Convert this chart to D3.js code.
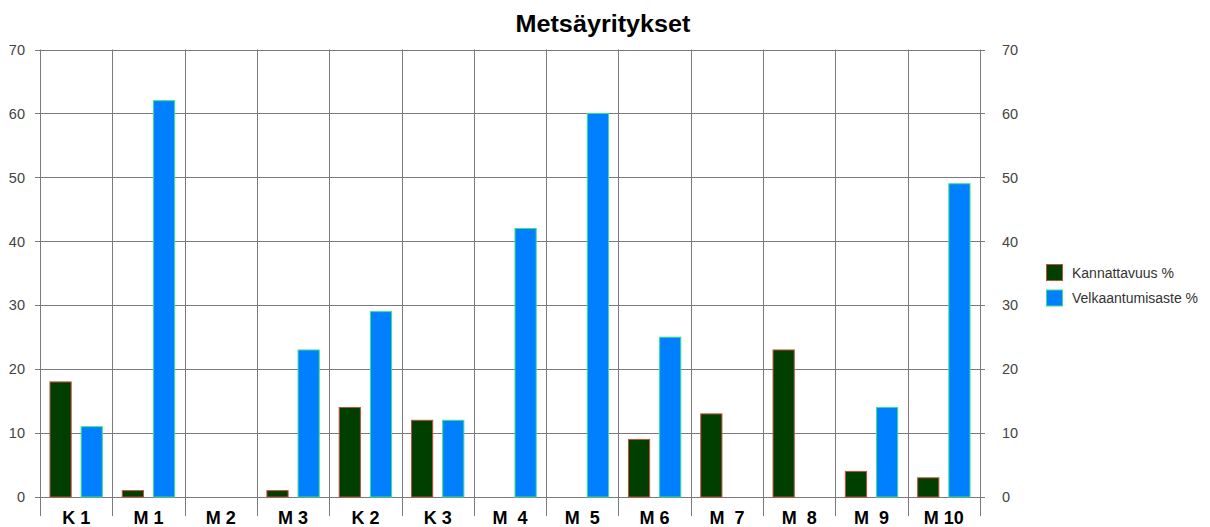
<!DOCTYPE html>
<html>
<head>
<meta charset="utf-8">
<script src="https://cdn.jsdelivr.net/npm/d3@7"></script>
<style>
  body { margin: 0; background: #fff; }
  text { font-family: "Liberation Sans", Arial, sans-serif; }
</style>
</head>
<body>
<div id="graph"></div>
<script>
// data
var categories = ["K 1", "M 1", "M 2", "M 3", "K 2", "K 3", "M  4", "M  5", "M 6", "M  7", "M  8", "M  9", "M 10"];
var kannattavuus = [18, 1, 0, 1, 14, 12, 0, 0, 9, 13, 23, 4, 3];
var velkaantumisaste = [11, 62, 0, 23, 29, 12, 42, 60, 25, 0, 0, 14, 49];
var seriesNames = ["Kannattavuus %", "Velkaantumisaste %"];
var yTicks = [0, 10, 20, 30, 40, 50, 60, 70];

var fills = ["#003f00", "#0080ff"];
var strokes = ["#c0503a", "#3ee08a"];

var w = 1210, h = 527;
// plot area (note: "top" is reserved on window, so use plot* names)
var plotLeft = 40, plotRight = 980, plotTop = 49.5, plotBottom = 497;

var svg = d3.select("div#graph").append("svg")
	.attr("width", w)
	.attr("height", h);

var x0 = d3.scaleBand().domain(categories).range([plotLeft, plotRight]).padding(0);
var x1 = d3.scaleBand().domain(seriesNames).range([0, x0.bandwidth()]).paddingInner(0.32).paddingOuter(0.32);
var y = d3.scaleLinear().domain([0, 70]).range([plotBottom, plotTop]);

// horizontal grid lines (with tick stubs on both sides)
svg.selectAll("line.hgrid")
	.data(yTicks).enter().append("line")
	.attr("class", "hgrid")
	.attr("x1", plotLeft - 5).attr("x2", plotRight + 5)
	.attr("y1", function(d) { return Math.round(y(d)) + 0.5 })
	.attr("y2", function(d) { return Math.round(y(d)) + 0.5 })
	.style("stroke", "#7a7a7a").style("stroke-width", 1);

// vertical grid lines at category boundaries, extending below the axis
var bounds = categories.map(function(c) { return x0(c) }).concat([plotRight]);
svg.selectAll("line.vgrid")
	.data(bounds).enter().append("line")
	.attr("class", "vgrid")
	.attr("x1", function(d) { return Math.round(d) + 0.5 })
	.attr("x2", function(d) { return Math.round(d) + 0.5 })
	.attr("y1", plotTop).attr("y2", plotBottom + 19)
	.style("stroke", "#7a7a7a").style("stroke-width", 1);

// axis labels left and right
svg.selectAll("text.yleft")
	.data(yTicks).enter().append("text")
	.attr("class", "yleft")
	.attr("x", 25).attr("y", function(d) { return y(d) })
	.attr("dy", "0.36em")
	.attr("text-anchor", "end")
	.style("font-size", "14.5px").style("fill", "#444")
	.text(function(d) { return d });
svg.selectAll("text.yright")
	.data(yTicks).enter().append("text")
	.attr("class", "yright")
	.attr("x", 1002).attr("y", function(d) { return y(d) })
	.attr("dy", "0.36em")
	.style("font-size", "14.5px").style("fill", "#444")
	.text(function(d) { return d });

// bars
var rows = categories.map(function(c, i) { return {cat: c, vals: [kannattavuus[i], velkaantumisaste[i]]} });
var groups = svg.selectAll("g.cat")
	.data(rows).enter().append("g")
	.attr("class", "cat")
	.attr("transform", function(d) { return "translate(" + x0(d.cat) + ",0)" });
groups.selectAll("rect")
	.data(function(d) { return d.vals.map(function(v, j) { return {name: seriesNames[j], v: v, j: j} }) })
	.enter().append("rect")
	.attr("x", function(d) { return x1(d.name) })
	.attr("width", x1.bandwidth())
	.attr("y", function(d) { return y(d.v) })
	.attr("height", function(d) { return plotBottom - y(d.v) })
	.style("fill", function(d) { return fills[d.j] })
	.style("stroke", function(d) { return strokes[d.j] })
	.style("stroke-width", 1);

// category labels
svg.selectAll("text.cat")
	.data(categories).enter().append("text")
	.attr("class", "cat")
	.attr("x", function(d) { return x0(d) + x0.bandwidth() / 2 })
	.attr("y", 523.5)
	.attr("text-anchor", "middle")
	.style("font-size", "18px").style("font-weight", "bold")
	.style("white-space", "pre")
	.text(function(d) { return d });

// title
svg.append("text")
	.attr("x", 603).attr("y", 31.5)
	.attr("text-anchor", "middle")
	.attr("textLength", 175)
	.attr("lengthAdjust", "spacingAndGlyphs")
	.style("font-size", "23px").style("font-weight", "bold")
	.text("Metsäyritykset");

// legend
var legend = svg.selectAll("g.legend")
	.data(seriesNames).enter().append("g")
	.attr("class", "legend")
	.attr("transform", function(d, i) { return "translate(1046.5," + (264.5 + i * 25.5) + ")" });
legend.append("rect")
	.attr("width", 16).attr("height", 16)
	.style("fill", function(d, i) { return fills[i] })
	.style("stroke", function(d, i) { return strokes[i] });
legend.append("text")
	.attr("x", 25.5).attr("y", 8).attr("dy", "0.36em")
	.style("font-size", "14px").style("fill", "#333")
	.text(function(d) { return d });
</script>
</body>
</html>
